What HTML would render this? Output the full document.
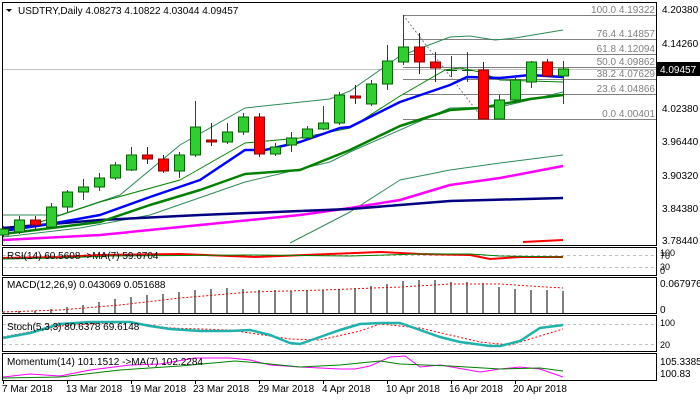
<!DOCTYPE html>
<html><head><meta charset="utf-8"><style>
html,body{margin:0;padding:0;background:#fff;}
svg{display:block;font-family:"Liberation Sans",sans-serif;}
</style></head><body>
<svg width="700" height="400" viewBox="0 0 700 400" xmlns="http://www.w3.org/2000/svg">
<rect x="0" y="0" width="700" height="400" fill="#fff"/>
<!-- panel frames -->
<g fill="none" stroke="#000" stroke-width="1">
<rect x="2.5" y="2.5" width="654" height="243"/>
<rect x="2.5" y="247.5" width="654" height="28"/>
<rect x="2.5" y="277.5" width="654" height="36"/>
<rect x="2.5" y="315.5" width="654" height="36"/>
<rect x="2.5" y="353.5" width="654" height="27"/>
</g>
<!-- current price line -->
<line x1="3" y1="69.5" x2="656" y2="69.5" stroke="#c0c0c0"/>
<!-- fib -->
<g stroke="#808080" stroke-width="1">
<line x1="403" y1="15.5" x2="656" y2="15.5"/>
<line x1="403" y1="39.5" x2="656" y2="39.5"/>
<line x1="403" y1="54.5" x2="656" y2="54.5"/>
<line x1="403" y1="67.5" x2="656" y2="67.5"/>
<line x1="403" y1="79.5" x2="656" y2="79.5"/>
<line x1="403" y1="94.5" x2="656" y2="94.5"/>
<line x1="403" y1="119.5" x2="656" y2="119.5"/>
<line x1="403" y1="15" x2="483" y2="119" stroke-dasharray="2,2"/>
</g>
<g font-size="10" fill="#808080" text-anchor="end">
<text x="655" y="13">100.0 4.19322</text>
<text x="655" y="37">76.4 4.14857</text>
<text x="655" y="52">61.8 4.12094</text>
<text x="655" y="65">50.0 4.09862</text>
<text x="655" y="77">38.2 4.07629</text>
<text x="655" y="92">23.6 4.04866</text>
<text x="655" y="117">0.0 4.00401</text>
</g>
<!-- MAs -->
<g fill="none" stroke-linejoin="round">
<polyline stroke="#2e8b57" stroke-width="1" points="3,215 60,215 120,195 180,145 245,108 330,99 350,91 400,56 450,37 470,36 495,40 515,38 563,30"/>
<polyline stroke="#008000" stroke-width="1" points="40,222 100,202 180,180 245,143 300,138 350,128 400,96 445,70 460,68 480,72 500,80 530,81 563,82"/>
<polyline stroke="#2e8b57" stroke-width="1" points="3,237 80,228 150,215 245,182 330,162 350,152 400,130 450,108 500,107 563,92"/>
<polyline stroke="#2e8b57" stroke-width="1" points="290,243 350,212 400,180 450,170 500,163 563,155"/>
<polyline stroke="#ff00ff" stroke-width="2.5" points="3,240 100,235 200,225 300,215 350,208 400,200 450,185 500,178 563,166"/>
<polyline stroke="#000080" stroke-width="2.5" points="3,228 100,220 200,215 300,211 350,209 450,201 563,198"/>
<polyline stroke="#008000" stroke-width="2.5" points="3,234 100,222 150,205 200,190 245,174 300,170 350,150 400,126 450,110 480,108 530,99 563,95"/>
<polyline stroke="#0000ff" stroke-width="2.5" points="3,231 50,224 100,215 150,197 200,180 245,150 265,150 300,142 340,128 350,127 400,102 450,85 467,77 500,78 530,75 563,77"/>
<polyline stroke="#ff0000" stroke-width="2" points="523,242 563,240"/>
</g>
<!-- candles -->
<g stroke-width="1">
<g stroke="#006400" fill="#32cd32">
<line x1="3.5" y1="226" x2="3.5" y2="237"/><rect x="-1.5" y="229" width="10" height="6"/>
<line x1="19.5" y1="216" x2="19.5" y2="234"/><rect x="14.5" y="220" width="10" height="12"/>
<line x1="51.5" y1="203" x2="51.5" y2="228"/><rect x="46.5" y="207" width="10" height="20"/>
<line x1="67.5" y1="190" x2="67.5" y2="212"/><rect x="62.5" y="192" width="10" height="15"/>
<line x1="83.5" y1="179" x2="83.5" y2="200"/><rect x="78.5" y="187" width="10" height="5"/>
<line x1="99.5" y1="173" x2="99.5" y2="191"/><rect x="94.5" y="178" width="10" height="9"/>
<line x1="115.5" y1="162" x2="115.5" y2="180"/><rect x="110.5" y="165" width="10" height="13"/>
<line x1="131.5" y1="147" x2="131.5" y2="171"/><rect x="126.5" y="155" width="10" height="15"/>
<line x1="179.5" y1="152" x2="179.5" y2="178"/><rect x="174.5" y="155" width="10" height="16"/>
<line x1="195.5" y1="101" x2="195.5" y2="157"/><rect x="190.5" y="127" width="10" height="28"/>
<line x1="227.5" y1="123" x2="227.5" y2="144"/><rect x="222.5" y="132" width="10" height="10"/>
<line x1="243.5" y1="113" x2="243.5" y2="135"/><rect x="238.5" y="117" width="10" height="15"/>
<line x1="275.5" y1="143" x2="275.5" y2="156"/><rect x="270.5" y="147" width="10" height="7"/>
<line x1="291.5" y1="132" x2="291.5" y2="152"/><rect x="286.5" y="138" width="10" height="7"/>
<line x1="307.5" y1="126" x2="307.5" y2="140"/><rect x="302.5" y="129" width="10" height="9"/>
<line x1="323.5" y1="106" x2="323.5" y2="130"/><rect x="318.5" y="123" width="10" height="6"/>
<line x1="339.5" y1="92" x2="339.5" y2="125"/><rect x="334.5" y="95" width="10" height="28"/>
<line x1="371.5" y1="80" x2="371.5" y2="106"/><rect x="366.5" y="84" width="10" height="20"/>
<line x1="387.5" y1="45" x2="387.5" y2="90"/><rect x="382.5" y="61" width="10" height="23"/>
<line x1="403.5" y1="15" x2="403.5" y2="65"/><rect x="398.5" y="47" width="10" height="15"/>
<line x1="451.5" y1="56" x2="451.5" y2="77"/><line x1="446" y1="70.5" x2="457" y2="70.5"/>
<line x1="467.5" y1="52" x2="467.5" y2="82"/><line x1="462" y1="70.5" x2="473" y2="70.5"/>
<line x1="499.5" y1="95" x2="499.5" y2="119"/><rect x="494.5" y="100" width="10" height="19"/>
<line x1="515.5" y1="75" x2="515.5" y2="103"/><rect x="510.5" y="80" width="10" height="20"/>
<line x1="531.5" y1="61" x2="531.5" y2="88"/><rect x="526.5" y="62" width="10" height="20"/>
<line x1="563.5" y1="61" x2="563.5" y2="104"/><rect x="558.5" y="69" width="10" height="7"/>
</g>
<g stroke="#8b0000" fill="#ff0000">
<line x1="35.5" y1="216" x2="35.5" y2="230"/><rect x="30.5" y="220" width="10" height="5"/>
<line x1="147.5" y1="147" x2="147.5" y2="164"/><rect x="142.5" y="155" width="10" height="4"/>
<line x1="163.5" y1="155" x2="163.5" y2="173"/><rect x="158.5" y="159" width="10" height="12"/>
<line x1="211.5" y1="123" x2="211.5" y2="146"/><rect x="206.5" y="140" width="10" height="2"/>
<line x1="259.5" y1="113" x2="259.5" y2="157"/><rect x="254.5" y="117" width="10" height="37"/>
<line x1="355.5" y1="85" x2="355.5" y2="104"/><rect x="350.5" y="96" width="10" height="2"/>
<line x1="419.5" y1="33" x2="419.5" y2="74"/><rect x="414.5" y="47" width="10" height="15"/>
<line x1="435.5" y1="52" x2="435.5" y2="82"/><rect x="430.5" y="62" width="10" height="6"/>
<line x1="483.5" y1="62" x2="483.5" y2="119"/><rect x="478.5" y="70" width="10" height="49"/>
<line x1="547.5" y1="59" x2="547.5" y2="77"/><rect x="542.5" y="62" width="10" height="14"/>
</g>
</g>
<!-- title -->
<path d="M6,9 L12,9 L9,12 Z" fill="#000"/>
<text x="18" y="14" font-size="10" fill="#000">USDTRY,Daily  4.08273 4.10822 4.03044 4.09457</text>
<!-- price axis -->
<g font-size="10" fill="#000">
<text x="662" y="13">4.20380</text>
<text x="662" y="47">4.14260</text>
<text x="662" y="112">4.02380</text>
<text x="662" y="145">3.96440</text>
<text x="662" y="179">3.90320</text>
<text x="662" y="212">3.84380</text>
<text x="662" y="244">3.78440</text>
</g>
<rect x="657" y="62" width="43" height="14" fill="#000"/>
<text x="660" y="73" font-size="10" fill="#fff">4.09457</text>
<!-- RSI -->
<g stroke="#c0c0c0" stroke-dasharray="3,3"><line x1="3" y1="255.5" x2="656" y2="255.5"/><line x1="3" y1="267.5" x2="656" y2="267.5"/></g>
<polyline fill="none" stroke="#ff0000" stroke-width="2" points="3,258 60,257 100,255 180,254 255,257 330,254 380,252 420,254 470,255 490,259 520,257 563,257"/>
<polyline fill="none" stroke="#008000" stroke-width="1" points="3,259 60,258 110,256 250,255 350,256 420,254 470,254 500,256 563,257"/>
<text x="7" y="259" font-size="10" fill="#000">RSI(14) 60.5608 -&gt;MA(7) 59.6704</text>
<g font-size="9" fill="#000"><text x="660" y="256">100</text><text x="660" y="259">70</text><text x="660" y="270">30</text><text x="660" y="274">0</text></g>
<!-- MACD -->
<g stroke="#808080" stroke-width="2">
<line x1="3" y1="313" x2="3" y2="312"/><line x1="19" y1="313" x2="19" y2="311"/><line x1="35" y1="313" x2="35" y2="311"/><line x1="51" y1="313" x2="51" y2="309"/><line x1="67" y1="313" x2="67" y2="307"/><line x1="83" y1="313" x2="83" y2="305"/><line x1="99" y1="313" x2="99" y2="302"/><line x1="115" y1="313" x2="115" y2="299"/><line x1="131" y1="313" x2="131" y2="297"/><line x1="147" y1="313" x2="147" y2="295"/><line x1="163" y1="313" x2="163" y2="294"/><line x1="179" y1="313" x2="179" y2="292"/><line x1="195" y1="313" x2="195" y2="290"/><line x1="211" y1="313" x2="211" y2="289"/><line x1="227" y1="313" x2="227" y2="288"/><line x1="243" y1="313" x2="243" y2="289"/><line x1="259" y1="313" x2="259" y2="290"/><line x1="275" y1="313" x2="275" y2="290"/><line x1="291" y1="313" x2="291" y2="291"/><line x1="307" y1="313" x2="307" y2="291"/><line x1="323" y1="313" x2="323" y2="290"/><line x1="339" y1="313" x2="339" y2="289"/><line x1="355" y1="313" x2="355" y2="288"/><line x1="371" y1="313" x2="371" y2="286"/><line x1="387" y1="313" x2="387" y2="284"/><line x1="403" y1="313" x2="403" y2="281"/><line x1="419" y1="313" x2="419" y2="280"/><line x1="435" y1="313" x2="435" y2="280"/><line x1="451" y1="313" x2="451" y2="282"/><line x1="467" y1="313" x2="467" y2="282"/><line x1="483" y1="313" x2="483" y2="283"/><line x1="499" y1="313" x2="499" y2="287"/><line x1="515" y1="313" x2="515" y2="289"/><line x1="531" y1="313" x2="531" y2="290"/><line x1="547" y1="313" x2="547" y2="290"/><line x1="563" y1="313" x2="563" y2="291"/>
</g>
<polyline fill="none" stroke="#ff0000" stroke-dasharray="2,2" points="3,312 60,310 120,305 180,298 250,292 323,290 400,287 450,284 500,284 530,286 563,288"/>
<text x="7" y="288" font-size="10" fill="#000">MACD(12,26,9) 0.043069 0.051688</text>
<g font-size="10" fill="#000"><text x="660" y="287">0.067976</text><text x="660" y="313">0</text></g>
<!-- Stoch -->
<g stroke="#c0c0c0" stroke-dasharray="3,3"><line x1="3" y1="324.5" x2="656" y2="324.5"/><line x1="3" y1="344.5" x2="656" y2="344.5"/></g>
<polyline fill="none" stroke="#ff0000" stroke-dasharray="2,2" points="3,337 60,326 90,324 130,322 170,328 230,330 290,339 320,340 360,331 380,324 420,328 480,342 510,345 540,336 563,329"/>
<polyline fill="none" stroke="#20b2aa" stroke-width="2.5" points="3,338 30,333 60,324 90,322 130,322 150,326 170,329 200,331 230,331 250,330 270,335 290,343 300,344 320,337 340,330 360,324 380,323 400,323 420,330 440,337 460,342 490,346 500,346 520,341 540,328 563,325"/>
<text x="7" y="330" font-size="10" fill="#000">Stoch(5,3,3) 80.6378 69.6148</text>
<g font-size="9" fill="#000"><text x="660" y="326">100</text><text x="660" y="348">20</text></g>
<!-- Momentum -->
<polyline fill="none" stroke="#ff00ff" stroke-width="1" points="3,377 30,374 60,376 90,370 130,365 160,364 195,358 230,358 250,360 270,365 300,367 340,369 355,369 370,366 390,357 405,356 420,367 440,365 480,372 500,369 520,367 540,369 563,377"/>
<polyline fill="none" stroke="#008000" stroke-width="1" points="3,378 60,377 120,370 180,366 235,361 260,363 300,367 340,365 380,361 400,364 450,366 500,369 540,368 563,371"/>
<text x="7" y="365" font-size="10" fill="#000">Momentum(14) 101.1512 -&gt;MA(7) 102.2284</text>
<g font-size="10" fill="#000"><text x="660" y="365">105.3385</text><text x="660" y="377">100.83</text></g>
<!-- dates -->
<g font-size="10" fill="#000">
<text x="2" y="392">7 Mar 2018</text>
<text x="66" y="392">13 Mar 2018</text>
<text x="130" y="392">19 Mar 2018</text>
<text x="193" y="392">23 Mar 2018</text>
<text x="258" y="392">29 Mar 2018</text>
<text x="322" y="392">4 Apr 2018</text>
<text x="386" y="392">10 Apr 2018</text>
<text x="449" y="392">16 Apr 2018</text>
<text x="513" y="392">20 Apr 2018</text>
</g>
<g stroke="#000"><line x1="3.5" y1="381" x2="3.5" y2="384"/><line x1="67.5" y1="381" x2="67.5" y2="384"/><line x1="131.5" y1="381" x2="131.5" y2="384"/><line x1="195.5" y1="381" x2="195.5" y2="384"/><line x1="259.5" y1="381" x2="259.5" y2="384"/><line x1="323.5" y1="381" x2="323.5" y2="384"/><line x1="387.5" y1="381" x2="387.5" y2="384"/><line x1="451.5" y1="381" x2="451.5" y2="384"/><line x1="515.5" y1="381" x2="515.5" y2="384"/></g>
</svg>
</body></html>
